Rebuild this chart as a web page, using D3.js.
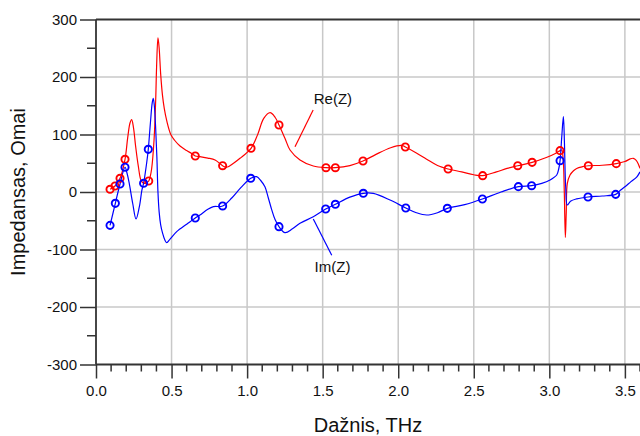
<!DOCTYPE html>
<html>
<head>
<meta charset="utf-8">
<script src="https://cdn.jsdelivr.net/npm/d3@7/dist/d3.min.js"></script>
<style>
  html, body { margin: 0; padding: 0; background: #fff; }
  svg { display: block; font-family: "Liberation Sans", Arial, sans-serif; }
</style>
</head>
<body>
<svg id="chart" width="640" height="436"></svg>
<script>
// Re(Z) curve samples, frequency in THz and impedance in ohms
const freqRe = [0.093, 0.126, 0.159, 0.192, 0.210, 0.225, 0.236, 0.248, 0.262, 0.280, 0.300, 0.320, 0.335, 0.349,
  0.358, 0.368, 0.384, 0.395, 0.401, 0.410, 0.418, 0.428, 0.440, 0.452, 0.468, 0.495, 0.520, 0.556, 0.600, 0.633, 0.657,
  0.688, 0.740, 0.788, 0.838, 0.865, 0.910, 0.953, 1.026, 1.070, 1.110, 1.152, 1.185, 1.211, 1.251, 1.284, 1.350,
  1.438, 1.522, 1.584, 1.680, 1.767, 1.850, 1.950, 2.023, 2.047, 2.120, 2.188, 2.260, 2.330, 2.420, 2.500, 2.559,
  2.650, 2.720, 2.791, 2.886, 2.980, 3.040, 3.071, 3.082, 3.092, 3.099, 3.106, 3.112, 3.119, 3.137, 3.160, 3.181,
  3.220, 3.258, 3.350, 3.443, 3.500, 3.535, 3.556, 3.575, 3.590, 3.600];
const re = [4.7, 10.4, 23.8, 56.9, 95, 120, 126, 112, 80, 45, 19, 15, 16, 19.1,
  26, 40, 90, 160, 218, 268, 250, 205, 168, 145, 124, 100, 90, 80, 72, 67, 62.6,
  61.4, 59, 55.7, 45.7, 43, 50, 58.6, 76, 100, 128, 138, 130, 116.5, 93, 73, 55.7,
  45.2, 42.3, 42.3, 46, 53.9, 65, 77, 81, 78.3, 68, 57, 46, 40, 35, 30, 28.4,
  35, 41, 45.7, 51.6, 60, 67, 71.9, 73, 55, 0, -79, -35, 15, 29.6, 37, 41,
  44, 45.7, 46.5, 49.3, 53, 57.5, 58.6, 55, 48, 41];

// Im(Z) curve samples
const freqIm = [0.093, 0.128, 0.159, 0.192, 0.205, 0.220, 0.243, 0.265, 0.287, 0.304, 0.315, 0.335, 0.346,
  0.360, 0.372, 0.379, 0.386, 0.395, 0.403, 0.410, 0.418, 0.428, 0.441, 0.455, 0.468, 0.490, 0.534, 0.600, 0.657,
  0.688, 0.740, 0.777, 0.838, 0.900, 0.960, 1.024, 1.063, 1.090, 1.118, 1.140, 1.163, 1.185, 1.211, 1.251, 1.300,
  1.350, 1.438, 1.520, 1.584, 1.680, 1.769, 1.835, 1.946, 2.050, 2.120, 2.188, 2.260, 2.325, 2.440, 2.557, 2.680,
  2.795, 2.883, 2.950, 3.005, 3.049, 3.062, 3.071, 3.082, 3.093, 3.100, 3.108, 3.119, 3.140, 3.181, 3.256, 3.350,
  3.439, 3.470, 3.505, 3.540, 3.578, 3.600];
const im = [-58, -19.7, 13.9, 43, 33, 15, -20, -47, -25.5, 3.5, 15.1, 50, 74.2,
  120, 155, 163, 150, 110, 60, 0, -35, -57, -72, -83, -88, -82, -69, -56, -45.2,
  -40, -30, -25.5, -24.3, -10, 8, 23.8, 26.6, 20, 9, -10, -31, -48, -60.3, -70.7, -64,
  -54.5, -43, -29.6, -21.4, -9, -2.3, -2.5, -14, -27.8, -36, -40, -36, -28.4, -22, -12.2, 0,
  9.3, 11, 15, 21, 29.6, 40, 54.5, 95, 131, 85, 10, -22.6, -16, -12, -8.7, -7,
  -4.1, 3, 10, 18, 26, 35];

// Marked sample points
const markFreqRe = [0.093, 0.126, 0.159, 0.192, 0.349, 0.657, 0.838, 1.026, 1.211, 1.522, 1.584, 1.767, 2.047,
  2.330, 2.559, 2.791, 2.886, 3.071, 3.258, 3.443];
const markRe = [4.7, 10.4, 23.8, 56.9, 19.1, 62.6, 45.7, 76, 116.5, 42.3, 42.3, 53.9, 78.3,
  40, 28.4, 45.7, 51.6, 71.9, 45.7, 49.3];
const markFreqIm = [0.093, 0.128, 0.159, 0.192, 0.315, 0.346, 0.657, 0.838, 1.024, 1.211, 1.520, 1.584, 1.769,
  2.050, 2.325, 2.557, 2.795, 2.883, 3.071, 3.256, 3.439];
const markIm = [-58, -19.7, 13.9, 43, 15.1, 74.2, -45.2, -24.3, 23.8, -60.3, -29.6, -21.4, -2.3,
  -27.8, -28.4, -12.2, 9.3, 11, 54.5, -8.7, -4.1];

// Axis ticks
const xMajorTicks = [0, 0.5, 1.0, 1.5, 2.0, 2.5, 3.0, 3.5];
const xTickLabels = ["0.0", "0.5", "1.0", "1.5", "2.0", "2.5", "3.0", "3.5"];
const xMinorTicks = d3.range(0, 37).map(i => i / 10);
const yMajorTicks = [300, 200, 100, 0, -100, -200, -300];
const yTickLabels = ["300", "200", "100", "0", "-100", "-200", "-300"];
const yMinorTicks = [250, 150, 50, -50, -150, -250];

const svg = d3.select("#chart");
const plotLeft = 96, plotRight = 640, plotTop = 19.5, plotBottom = 364.5;

const x = d3.scaleLinear().domain([0, 3.6]).range([plotLeft, plotRight]);
const y = d3.scaleLinear().domain([-300, 300]).range([plotBottom, plotTop]);

// grid
const grid = svg.append("g").attr("stroke", "#c8c8c8").attr("stroke-width", 1.5);
grid.selectAll("line.v").data(xMajorTicks.filter(d => d > 0)).join("line")
  .attr("x1", d => x(d)).attr("x2", d => x(d)).attr("y1", plotTop).attr("y2", plotBottom);
grid.selectAll("line.h").data(yMajorTicks.filter(d => d > -300 && d < 300)).join("line")
  .attr("x1", plotLeft).attr("x2", plotRight).attr("y1", d => y(d)).attr("y2", d => y(d));

// plot clip
svg.append("clipPath").attr("id", "plot").append("rect")
  .attr("x", plotLeft).attr("y", plotTop).attr("width", plotRight - plotLeft).attr("height", plotBottom - plotTop);

const line = d3.line()
  .x(d => x(d[0])).y(d => y(d[1]))
  .curve(d3.curveCatmullRom.alpha(0.5));

const plot = svg.append("g").attr("clip-path", "url(#plot)");
plot.append("path").datum(d3.zip(freqRe, re))
  .attr("fill", "none").attr("stroke", "#ff0000").attr("stroke-width", 1.2).attr("d", line);
plot.append("path").datum(d3.zip(freqIm, im))
  .attr("fill", "none").attr("stroke", "#0000ff").attr("stroke-width", 1.2).attr("d", line);

plot.selectAll("circle.re").data(d3.zip(markFreqRe, markRe)).join("circle")
  .attr("cx", d => x(d[0])).attr("cy", d => y(d[1])).attr("r", 3.6)
  .attr("fill", "none").attr("stroke", "#ff0000").attr("stroke-width", 1.9);
plot.selectAll("circle.im").data(d3.zip(markFreqIm, markIm)).join("circle")
  .attr("cx", d => x(d[0])).attr("cy", d => y(d[1])).attr("r", 3.6)
  .attr("fill", "none").attr("stroke", "#0000ff").attr("stroke-width", 1.9);

// axes
const axisColor = "#333";
const yAxis = svg.append("g").attr("transform", `translate(${plotLeft},0)`);
yAxis.call(d3.axisLeft(y).tickValues(yMajorTicks).tickSize(16)
  .tickFormat((d, i) => yTickLabels[i]).tickPadding(3));
yAxis.append("g").selectAll("line").data(yMinorTicks).join("line")
  .attr("x1", 0).attr("x2", -9).attr("y1", d => y(d)).attr("y2", d => y(d))
  .attr("stroke", axisColor).attr("stroke-width", 1.5);

const xAxis = svg.append("g").attr("transform", `translate(0,${plotBottom})`);
xAxis.call(d3.axisBottom(x).tickValues(xMajorTicks).tickSize(14)
  .tickFormat((d, i) => xTickLabels[i]).tickPadding(7));
xAxis.append("g").selectAll("line").data(xMinorTicks.filter(d => Math.round(d * 10) % 5 !== 0)).join("line")
  .attr("x1", d => x(d)).attr("x2", d => x(d)).attr("y1", 0).attr("y2", 7)
  .attr("stroke", axisColor).attr("stroke-width", 1.5);

[xAxis, yAxis].forEach(a => {
  a.select(".domain").attr("stroke", axisColor).attr("stroke-width", 1.8);
  a.selectAll(".tick line").attr("stroke", axisColor).attr("stroke-width", 1.5);
  a.selectAll(".tick text").attr("fill", "#111").attr("font-size", 15)
    .attr("font-family", "'Liberation Sans', Arial, sans-serif");
});
yAxis.select(".domain").attr("d", `M0,${plotTop}V${plotBottom}`);
xAxis.select(".domain").attr("d", `M${plotLeft},0H${plotRight}`);

// top frame
svg.append("line").attr("x1", plotLeft).attr("x2", plotRight).attr("y1", plotTop).attr("y2", plotTop)
  .attr("stroke", axisColor).attr("stroke-width", 1.8);

// axis titles
svg.append("text").attr("x", (plotLeft + plotRight) / 2).attr("y", 432)
  .attr("text-anchor", "middle").attr("font-size", 20).attr("fill", "#111")
  .text("Dažnis, THz");
svg.append("text").attr("transform", `translate(25,${(plotTop + plotBottom) / 2}) rotate(-90)`)
  .attr("text-anchor", "middle").attr("font-size", 20).attr("fill", "#111")
  .text("Impedansas, Omai");

// series callouts
const callouts = [
  { text: "Re(Z)", color: "#ff0000", tx: 1.568, ty: 160, from: [1.437, 142.6], to: [1.317, 78.8] },
  { text: "Im(Z)", color: "#0000ff", tx: 1.565, ty: -132, from: [1.560, -110], to: [1.438, -47] }
];
callouts.forEach(c => {
  svg.append("line")
    .attr("x1", x(c.from[0])).attr("y1", y(c.from[1]))
    .attr("x2", x(c.to[0])).attr("y2", y(c.to[1]))
    .attr("stroke", c.color).attr("stroke-width", 1.2);
  svg.append("text").attr("x", x(c.tx)).attr("y", y(c.ty))
    .attr("text-anchor", "middle").attr("dominant-baseline", "middle")
    .attr("font-size", 15).attr("fill", "#111").text(c.text);
});
</script>
</body>
</html>
